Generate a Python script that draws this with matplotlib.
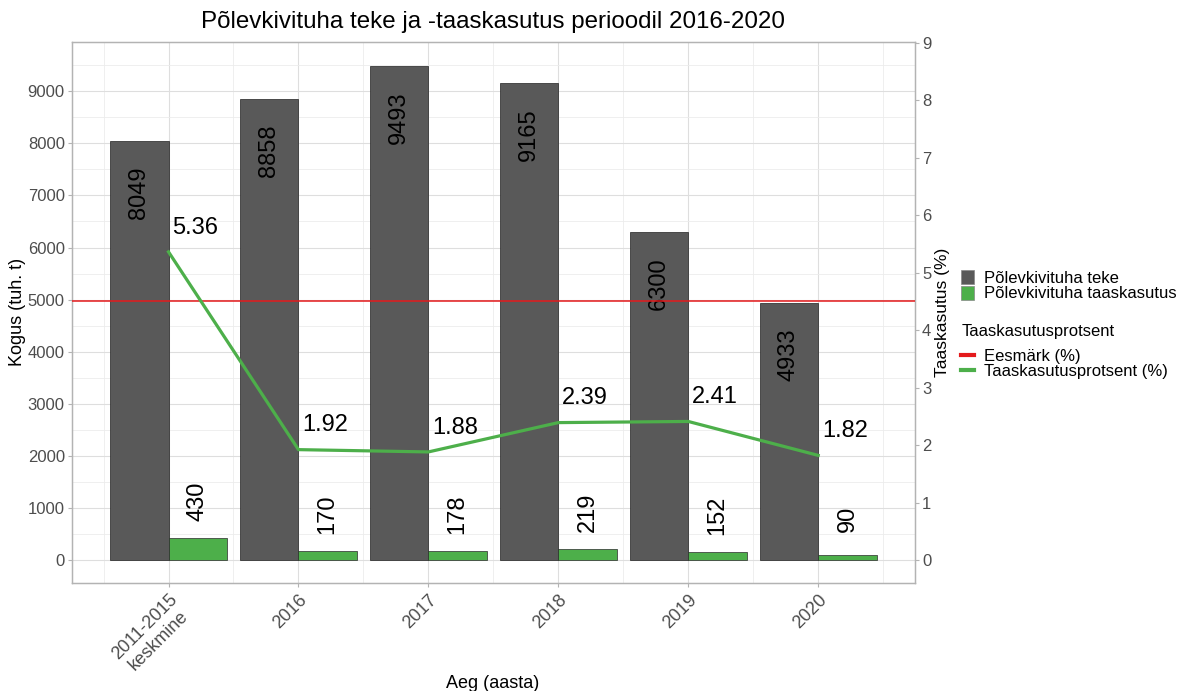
import numpy as np
import matplotlib
matplotlib.use("Agg")
import matplotlib.pyplot as plt
from matplotlib.patches import Patch
from matplotlib.lines import Line2D
from matplotlib.ticker import MultipleLocator

plt.rcParams['font.family'] = ['Liberation Sans', 'DejaVu Sans']

# data
periods = ["2011-2015\nkeskmine", "2016", "2017", "2018", "2019", "2020"]
teke = [8049, 8858, 9493, 9165, 6300, 4933]
taaskasutus = [430, 170, 178, 219, 152, 90]
protsent = [5.36, 1.92, 1.88, 2.39, 2.41, 1.82]
eesmark = 4.5

GRAY = '#595959'
GREEN = '#4DAF4A'
RED = '#E41A1C'
SCALE = 1104  # left axis units per right axis unit

W, H = 1179, 691
fig = plt.figure(figsize=(W / 100, H / 100), dpi=100)
ax = fig.add_axes([71.7 / W, 1 - 583 / H, (915 - 71.7) / W, (583 - 41.7) / H])
ax2 = ax.twinx()

x = np.arange(len(periods))
bw = 0.45

ax.set_axisbelow(True)
ax.bar(x - bw / 2, teke, width=bw, align='center', color=GRAY, edgecolor='#222222', linewidth=0.5, zorder=2)
ax.bar(x + bw / 2, taaskasutus, width=bw, align='center', color=GREEN, edgecolor='#2a2a2a', linewidth=0.5, zorder=2)

for xi, v in zip(x, teke):
    ax.text(xi - bw / 2, v - 1000, str(v), rotation=90, ha='center', va='center', fontsize=17, color='black', zorder=3)
for xi, v in zip(x, taaskasutus):
    ax.text(xi + bw / 2, v + 700, str(v), rotation=90, ha='center', va='center', fontsize=17, color='black', zorder=3)

ax2.axhline(eesmark, color=RED, linewidth=1.1, zorder=3)
ax2.plot(x, protsent, color=GREEN, linewidth=2.3, zorder=4)
for xi, p in zip(x, protsent):
    ax2.text(xi + 0.03, p + 0.42, f"{p:.2f}", ha='left', va='center', fontsize=17, color='black', zorder=5)

ylo, yhi = -441, 9952
ax.set_ylim(ylo, yhi)
ax2.set_ylim(ylo / SCALE, yhi / SCALE)
ax.set_xlim(-0.745, 5.745)

ax.yaxis.set_major_locator(MultipleLocator(1000))
ax.yaxis.set_minor_locator(MultipleLocator(500))
ax2.yaxis.set_major_locator(MultipleLocator(1))
ax.set_xticks(x)
ax.set_xticks(np.arange(-0.5, 6.0, 1.0), minor=True)
ax.set_xticklabels(periods, rotation=45, ha='right', va='top', rotation_mode='anchor',
                   multialignment='center')

ax.grid(which='major', color='#dedede', linewidth=0.8)
ax.grid(which='minor', color='#ececec', linewidth=0.6)

for a in (ax, ax2):
    for s in a.spines.values():
        s.set_color('#b3b3b3')
        s.set_linewidth(0.9)
    a.tick_params(which='major', colors='#b3b3b3', labelcolor='#4d4d4d', labelsize=12, length=3, width=0.8, pad=2)
    a.tick_params(which='minor', length=0)
ax.tick_params(axis='x', pad=3, labelsize=13)

fig.text(493 / W, 1 - 22 / H, "Põlevkivituha teke ja -taaskasutus perioodil 2016-2020",
         ha='center', va='center', fontsize=17.4)
fig.text(493 / W, 1 - 683 / H, "Aeg (aasta)", ha='center', va='center', fontsize=13)
fig.text(18 / W, 1 - 312 / H, "Kogus (tuh. t)", ha='center', va='center', rotation=90, fontsize=13)
fig.text(943 / W, 1 - 312 / H, "Taaskasutus (%)", ha='center', va='center', rotation=90, fontsize=12.5)

leg1 = fig.legend(handles=[Patch(facecolor=GRAY, edgecolor='#888888', linewidth=0.5),
                           Patch(facecolor=GREEN, edgecolor='#888888', linewidth=0.5)],
                  labels=["Põlevkivituha teke", "Põlevkivituha taaskasutus"],
                  loc='upper left', bbox_to_anchor=(961 / W, 1 - 270 / H), frameon=False,
                  fontsize=12, handlelength=0.8, handleheight=0.9, handletextpad=0.55,
                  labelspacing=0, borderpad=0, borderaxespad=0)
fig.text(961.5 / W, 1 - 331.5 / H, "Taaskasutusprotsent", ha='left', va='center', fontsize=12)
leg2 = fig.legend(handles=[Line2D([], [], color=RED, linewidth=3),
                           Line2D([], [], color=GREEN, linewidth=3)],
                  labels=["Eesmärk (%)", "Taaskasutusprotsent (%)"],
                  loc='upper left', bbox_to_anchor=(961 / W, 1 - 349 / H), frameon=False,
                  fontsize=12, handlelength=0.8, handletextpad=0.55,
                  labelspacing=0, borderpad=0, borderaxespad=0)

fig.savefig("out.png", dpi=100)
